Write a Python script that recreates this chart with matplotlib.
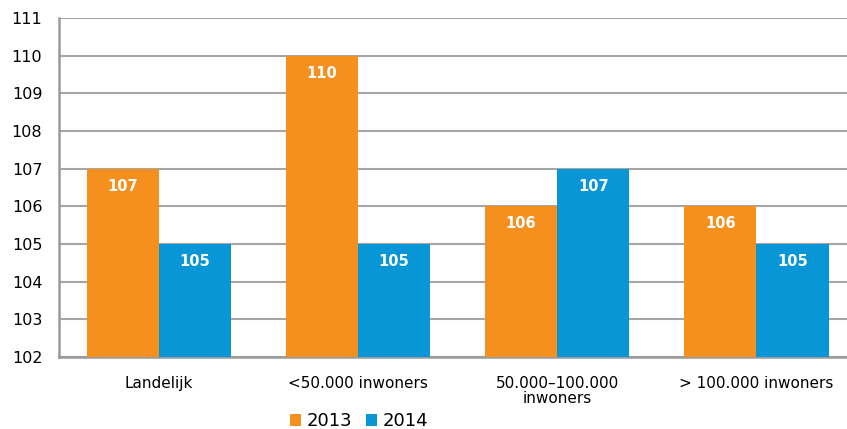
import matplotlib.pyplot as plt
import numpy as np

# data
categories = ["Landelijk", "<50.000 inwoners", "50.000–100.000\ninwoners", "> 100.000 inwoners"]
years = ["2013", "2014"]
values_2013 = [107, 110, 106, 106]
values_2014 = [105, 105, 107, 105]

orange = "#F5901F"
blue = "#0996D7"
grid_col = "#A6A6A6"

fig = plt.figure(figsize=(8.47, 4.29), dpi=100)
# axes runs a bit past the right edge, like the original crop
ax = fig.add_axes([0.0697, 0.168, 0.941, 0.790])

x = np.arange(len(categories))
w = 0.362

b1 = ax.bar(x - w / 2, np.array(values_2013) - 102, w, bottom=102, color=orange, label=years[0], zorder=3)
b2 = ax.bar(x + w / 2, np.array(values_2014) - 102, w, bottom=102, color=blue, label=years[1], zorder=3)

for bars, vals in [(b1, values_2013), (b2, values_2014)]:
    for r, v in zip(bars, vals):
        ax.text(r.get_x() + r.get_width() / 2, v - 0.47, str(v), ha="center", va="center",
                color="white", fontsize=10.5, fontweight="bold", zorder=4)

ax.set_xlim(-0.5, 3.5)
ax.set_ylim(102, 111)
ax.set_yticks(range(102, 112))
ax.set_xticks(x)
ax.set_xticklabels(categories, fontsize=11, linespacing=0.95)
ax.tick_params(axis="y", labelsize=11.5, length=0, pad=12)
ax.tick_params(axis="x", length=0, pad=14)

ax.yaxis.grid(True, color=grid_col, linewidth=1.5, zorder=0)
ax.set_axisbelow(True)
for s in ["top", "right"]:
    ax.spines[s].set_visible(False)
for s in ["left", "bottom"]:
    ax.spines[s].set_color("#9A9A9A")
    ax.spines[s].set_linewidth(1.8)

fig.legend(handles=[b1, b2], labels=years, loc="center", bbox_to_anchor=(0.424, 0.018),
           ncol=2, frameon=False, fontsize=13, handlelength=0.6, handleheight=0.6,
           handletextpad=0.3, columnspacing=0.75, borderaxespad=0)

fig.savefig("out.png", dpi=100)
